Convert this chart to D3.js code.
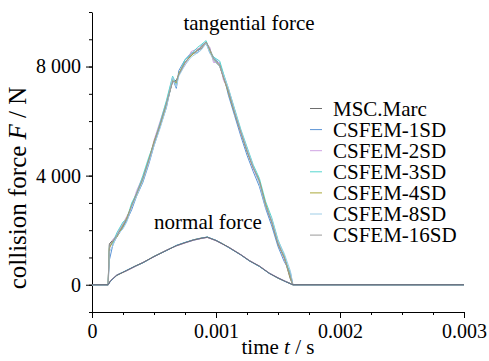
<!DOCTYPE html>
<html>
<head>
<meta charset="utf-8">
<script src="https://cdn.jsdelivr.net/npm/d3@7"></script>
<style>
  body { margin: 0; background: #fff; }
  svg { display: block; font-family: "Liberation Serif", "Times New Roman", serif; }
</style>
</head>
<body>
<svg id="chart" width="489" height="361"></svg>
<script>
// time grids in ms
const tTime = [0, 0.13, 0.14, 0.17, 0.20, 0.25, 0.28, 0.32, 0.36, 0.41, 0.46, 0.50, 0.55, 0.60, 0.65, 0.68, 0.70, 0.75, 0.80, 0.85, 0.88, 0.92, 0.95, 0.98, 1.03, 1.06, 1.10, 1.15, 1.20, 1.25, 1.30, 1.35, 1.40, 1.45, 1.50, 1.55, 1.60, 1.62, 3.00];
const nTime = [0, 0.13, 0.15, 0.20, 0.28, 0.35, 0.41, 0.50, 0.60, 0.68, 0.75, 0.82, 0.88, 0.93, 1.00, 1.05, 1.10, 1.20, 1.27, 1.35, 1.43, 1.50, 1.56, 1.62, 3.00];

const seriesNames = ["MSC.Marc", "CSFEM-1SD", "CSFEM-2SD", "CSFEM-3SD", "CSFEM-4SD", "CSFEM-8SD", "CSFEM-16SD"];
const seriesColors = ["#6e6e6e", "#5b93d6", "#cfa3e3", "#56d6cf", "#aaa83a", "#9fcde6", "#9a9a9a"];

// tangential force (N)
const tangMarc = [0,0,1500,1650,1800,2150,2400,2900,3350,3850,4600,5200,5900,6600,7450,7500,7700,8150,8400,8600,8650,8850,8600,8250,8000,7600,7100,6300,5600,4900,4300,3800,2900,2300,1500,1000,200,0,0];
const tang1SD = [0,0,900,1500,1750,2100,2350,2750,3250,3750,4450,5100,5800,6500,7550,7200,7850,8250,8500,8500,8750,8900,8500,8350,8100,7700,6950,6200,5450,4750,4150,3600,2800,2150,1400,850,450,0,0];
const tang2SD = [0,0,1300,1650,1850,2250,2500,2850,3450,3950,4550,5300,6000,6700,7600,7300,7750,8050,8550,8650,8700,8880,8700,8150,8150,7500,7150,6400,5550,5000,4250,3750,3000,2300,1600,950,300,0,0];
const tang3SD = [0,0,1400,1550,1900,2300,2400,3000,3350,4000,4700,5200,5950,6750,7650,7350,7700,8250,8450,8700,8800,8950,8600,8350,8200,7750,7200,6450,5700,5050,4400,3900,3050,2450,1650,1100,350,0,0];
const tang4SD = [0,0,1350,1600,1750,2150,2450,2900,3300,3850,4600,5250,5850,6600,7500,7400,7750,8150,8400,8600,8700,8900,8600,8250,8050,7600,7050,6300,5600,4900,4300,3800,2950,2300,1500,1000,250,0,0];
const tang8SD = [0,0,1200,1450,1800,2050,2300,2850,3250,3800,4500,5100,5750,6500,7600,7250,7650,8050,8350,8500,8600,8850,8500,8250,8000,7700,7200,6400,5650,5000,4350,3700,2850,2400,1600,1150,500,0,0];
const tang16SD = [0,0,1450,1600,1800,2200,2400,2900,3350,3900,4600,5200,5900,6650,7450,7450,7700,8150,8450,8600,8700,8900,8650,8300,8050,7600,7100,6300,5600,4900,4300,3800,2900,2300,1500,1000,300,0,0];

// normal force (N)
const normMarc = [0,0,150,350,520,680,810,1030,1260,1430,1540,1640,1700,1740,1620,1500,1380,1100,880,680,420,250,120,0,0];
const norm1SD = [0,0,130,340,530,690,800,1040,1250,1440,1550,1650,1710,1750,1630,1510,1370,1090,870,670,410,240,110,0,0];
const norm2SD = [0,0,160,360,510,670,820,1020,1270,1420,1530,1630,1690,1730,1610,1490,1390,1110,890,690,430,260,130,0,0];
const norm3SD = [0,0,140,350,530,680,800,1030,1260,1440,1550,1640,1700,1750,1620,1500,1380,1100,880,670,420,250,120,0,0];
const norm4SD = [0,0,150,340,520,690,810,1040,1260,1430,1540,1650,1710,1740,1620,1510,1380,1100,880,680,420,240,120,0,0];
const norm8SD = [0,0,140,360,520,680,820,1030,1250,1430,1540,1640,1700,1740,1630,1500,1370,1100,870,680,430,250,130,0,0];
const norm16SD = [0,0,150,350,520,680,810,1030,1260,1430,1540,1640,1700,1740,1620,1500,1380,1100,880,680,420,250,120,0,0];

const tangSeries = [tangMarc, tang1SD, tang2SD, tang3SD, tang4SD, tang8SD, tang16SD];
const normSeries = [normMarc, norm1SD, norm2SD, norm3SD, norm4SD, norm8SD, norm16SD];

const xTicks = [0, 0.001, 0.002, 0.003];
const xTickLabels = ["0", "0.001", "0.002", "0.003"];
const yTicks = [0, 4000, 8000];
const yTickLabels = ["0", "4 000", "8 000"];

const svg = d3.select("#chart");
const mLeft = 92, mRight = 464, mTop = 12, mBottom = 312;

const x = d3.scaleLinear().domain([0, 0.003]).range([mLeft, mRight]);
const y = d3.scaleLinear().domain([-1000, 10000]).range([mBottom, mTop]);

// minor ticks
const xMinor = d3.range(0, 0.003 + 1e-9, 0.00025);
const yMinor = d3.range(-1000, 10000 + 1, 1000);

svg.append("g")
  .attr("transform", "translate(0," + mBottom + ")")
  .call(d3.axisBottom(x).tickValues(xMinor).tickSize(3).tickFormat(""))
  .call(g => g.select(".domain").remove());
svg.append("g")
  .attr("transform", "translate(" + mLeft + ",0)")
  .call(d3.axisLeft(y).tickValues(yMinor).tickSize(3).tickFormat(""))
  .call(g => g.select(".domain").remove());

const xAxis = svg.append("g")
  .attr("transform", "translate(0," + mBottom + ")")
  .call(d3.axisBottom(x).tickValues(xTicks).tickSize(6).tickSizeOuter(0).tickPadding(6)
    .tickFormat((d, i) => xTickLabels[i]));

const yAxis = svg.append("g")
  .attr("transform", "translate(" + mLeft + ",0)")
  .call(d3.axisLeft(y).tickValues(yTicks).tickSize(6).tickSizeOuter(0).tickPadding(5)
    .tickFormat((d, i) => yTickLabels[i]));

svg.selectAll("g").attr("font-family", null).attr("font-size", null);
xAxis.selectAll("text").attr("font-size", 20).attr("fill", "#000");
yAxis.selectAll("text").attr("font-size", 20).attr("fill", "#000");
svg.selectAll(".domain").attr("stroke", "#000");
svg.selectAll(".tick line").attr("stroke", "#000");

const line = d3.line()
  .x(d => x(d[0] * 1e-3))
  .y(d => y(d[1]));

const plot = svg.append("g").attr("fill", "none").attr("stroke-width", 1);

// tangential: reference curve underneath, the CSFEM curves over it
seriesNames.forEach((n, i) => {
  plot.append("path")
    .attr("d", line(tTime.map((t, j) => [t, tangSeries[i][j]])))
    .attr("stroke", seriesColors[i]);
});
// normal: reference curve drawn last
for (let i = seriesNames.length - 1; i >= 0; i--) {
  plot.append("path")
    .attr("d", line(nTime.map((t, j) => [t, normSeries[i][j]])))
    .attr("stroke", seriesColors[i]);
}

// annotations
svg.append("text").attr("x", 249).attr("y", 30).attr("text-anchor", "middle")
  .attr("font-size", 21).text("tangential force");
svg.append("text").attr("x", 208).attr("y", 229).attr("text-anchor", "middle")
  .attr("font-size", 21).text("normal force");

// axis titles
const xt = svg.append("text").attr("x", 278).attr("y", 354).attr("text-anchor", "middle")
  .attr("font-size", 21);
xt.append("tspan").text("time ");
xt.append("tspan").attr("font-style", "italic").text("t");
xt.append("tspan").text(" / s");

const yt = svg.append("text").attr("transform", "translate(26,188) rotate(-90)")
  .attr("text-anchor", "middle").attr("font-size", 25);
yt.append("tspan").text("collision force ");
yt.append("tspan").attr("font-style", "italic").text("F");
yt.append("tspan").text(" / N");

// legend
const legend = svg.append("g");
seriesNames.forEach((name, i) => {
  const ly = 108.5 + i * 21.1;
  legend.append("line").attr("x1", 310).attr("x2", 322).attr("y1", ly).attr("y2", ly)
    .attr("stroke", seriesColors[i]).attr("stroke-width", 1);
  legend.append("text").attr("x", 333).attr("y", ly + 7).attr("font-size", 21).text(name);
});
</script>
</body>
</html>
